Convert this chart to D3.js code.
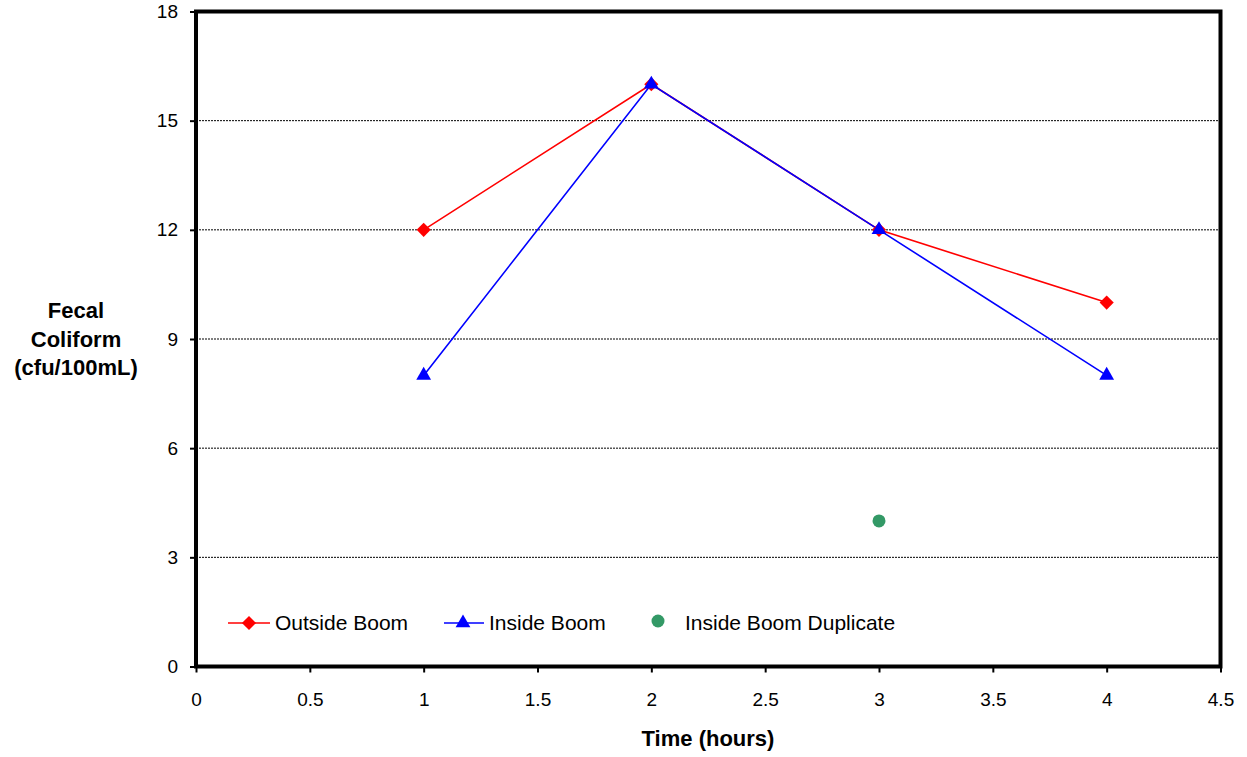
<!DOCTYPE html>
<html><head><meta charset="utf-8">
<script src="https://cdn.jsdelivr.net/npm/d3@7"></script>
<style>body{margin:0;background:#fff;} svg{display:block;font-family:"Liberation Sans",Arial,sans-serif;}</style>
</head><body>
<svg id="c" width="1247" height="757"></svg>
<script>
const times = [1, 2, 3, 4];
const outsideBoom = [12, 16, 12, 10];
const insideBoom = [8, 16, 12, 8];
const dupTimes = [3];
const insideBoomDuplicate = [4];
const xTicks = [0, 0.5, 1, 1.5, 2, 2.5, 3, 3.5, 4, 4.5];
const yTicks = [0, 3, 6, 9, 12, 15, 18];
const seriesNames = ["Outside Boom", "Inside Boom", "Inside Boom Duplicate"];

const svg = d3.select("#c");
const L = 196, R = 1220.5, T = 11.5, B = 666.5;
const x = d3.scaleLinear().domain([0, 4.5]).range([L, R]);
const y = d3.scaleLinear().domain([0, 18]).range([B, T]);

// gridlines
svg.append("g").selectAll("line").data(yTicks.filter(d => d > 0 && d < 18)).join("line")
  .attr("x1", L).attr("x2", R).attr("y1", d => y(d)).attr("y2", d => y(d))
  .attr("stroke", "#000").attr("stroke-width", 1).attr("stroke-dasharray", "2,1");

// axes
const fmt = d => String(d);
const yAxis = svg.append("g").attr("transform", `translate(${L},0)`)
  .call(d3.axisLeft(y).tickValues(yTicks).tickFormat(fmt).tickSize(6).tickPadding(12));
const xAxis = svg.append("g").attr("transform", `translate(0,${B})`)
  .call(d3.axisBottom(x).tickValues(xTicks).tickFormat(fmt).tickSize(6).tickPadding(20));
[yAxis, xAxis].forEach(a => {
  a.select(".domain").remove();
  a.selectAll("line").attr("stroke", "#000").attr("stroke-width", 2);
  a.selectAll("text").attr("font-size", 19).attr("fill", "#000").attr("font-family", "Liberation Sans, Arial, sans-serif");
});

// frame
svg.append("rect").attr("x", L).attr("y", T).attr("width", R - L).attr("height", B - T)
  .attr("fill", "none").attr("stroke", "#000").attr("stroke-width", 4);

const line = d3.line().x(d => x(d[0])).y(d => y(d[1]));
const outData = times.map((t, i) => [t, outsideBoom[i]]);
const inData = times.map((t, i) => [t, insideBoom[i]]);
const dupData = dupTimes.map((t, i) => [t, insideBoomDuplicate[i]]);

const diamond = d3.symbol().type(d3.symbolSquare).size(100);
const tri = d3.symbol().type(d3.symbolTriangle).size(95);

svg.append("path").datum(outData).attr("d", line).attr("fill", "none").attr("stroke", "#ff0000").attr("stroke-width", 1.6);
svg.append("path").datum(inData).attr("d", line).attr("fill", "none").attr("stroke", "#0000ff").attr("stroke-width", 1.6);

svg.append("g").selectAll("path").data(outData).join("path")
  .attr("d", diamond).attr("transform", d => `translate(${x(d[0])},${y(d[1])}) rotate(45)`).attr("fill", "#ff0000");
svg.append("g").selectAll("path").data(inData).join("path")
  .attr("d", tri).attr("transform", d => `translate(${x(d[0])},${y(d[1])})`).attr("fill", "#0000ff");
svg.append("g").selectAll("circle").data(dupData).join("circle")
  .attr("cx", d => x(d[0])).attr("cy", d => y(d[1])).attr("r", 6.5).attr("fill", "#339966");

// legend
const ly = 623;
const lg = svg.append("g").attr("font-size", 21).attr("fill", "#000");
lg.append("line").attr("x1", 228).attr("x2", 270).attr("y1", ly).attr("y2", ly).attr("stroke", "#ff0000").attr("stroke-width", 1.6);
lg.append("path").attr("d", diamond).attr("transform", `translate(249,${ly}) rotate(45)`).attr("fill", "#ff0000");
lg.append("text").attr("x", 275).attr("y", ly).attr("dy", "0.35em").text(seriesNames[0]);
lg.append("line").attr("x1", 444).attr("x2", 484).attr("y1", ly).attr("y2", ly).attr("stroke", "#0000ff").attr("stroke-width", 1.6);
lg.append("path").attr("d", tri).attr("transform", `translate(463,${ly})`).attr("fill", "#0000ff");
lg.append("text").attr("x", 489).attr("y", ly).attr("dy", "0.35em").text(seriesNames[1]);
lg.append("circle").attr("cx", 658).attr("cy", 621).attr("r", 6.5).attr("fill", "#339966");
lg.append("text").attr("x", 685).attr("y", ly).attr("dy", "0.35em").text(seriesNames[2]);

// axis titles
svg.append("text").attr("x", 708).attr("y", 746).attr("text-anchor", "middle")
  .attr("font-size", 22).attr("font-weight", "bold").text("Time (hours)");
const yt = svg.append("text").attr("text-anchor", "middle").attr("font-size", 22).attr("font-weight", "bold");
[["Fecal", 318], ["Coliform", 347], ["(cfu/100mL)", 375]].forEach(([s, yy]) =>
  yt.append("tspan").attr("x", 76).attr("y", yy).text(s));
</script>
</body></html>
